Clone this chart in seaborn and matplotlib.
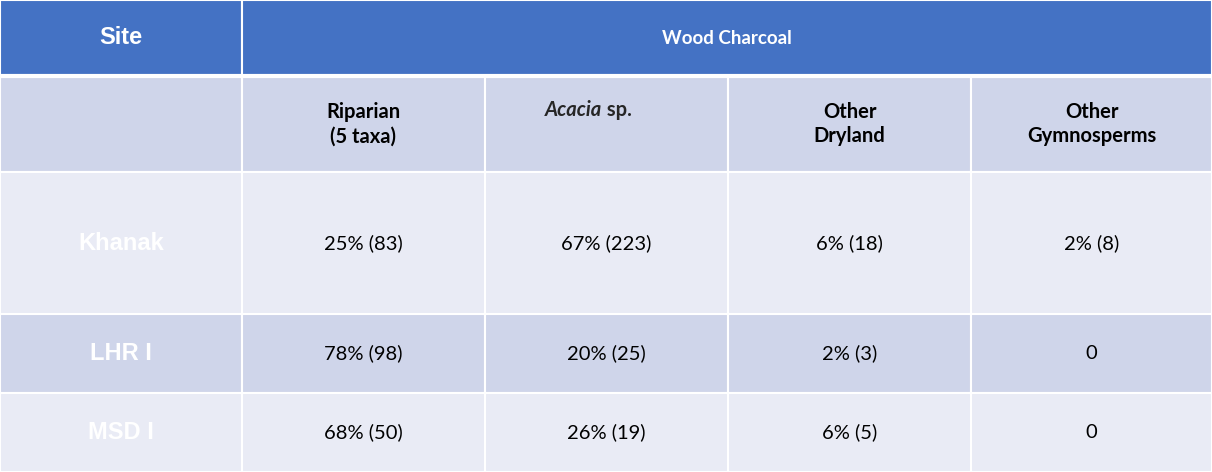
import matplotlib
matplotlib.use("Agg")
import matplotlib.pyplot as plt
import seaborn as sns
from matplotlib.patches import Rectangle

sns.set_theme(style="white")

sites = ["Khanak", "LHR I", "MSD I"]
groups = ["Riparian\n(5 taxa)", "Acacia sp.", "Other\nDryland", "Other\nGymnosperms"]
values = [
    ["25% (83)", "67% (223)", "6% (18)", "2% (8)"],
    ["78% (98)", "20% (25)", "2% (3)", "0"],
    ["68% (50)", "26% (19)", "6% (5)", "0"],
]

col_edges = [0, 242, 485, 728, 971, 1212]
row_edges = [0, 76, 172, 314, 393, 472]
row_colors = ["#4472C4", "#CFD5EA", "#E9EBF5", "#CFD5EA", "#E9EBF5"]

fig = plt.figure(figsize=(12.12, 4.72), dpi=100)
ax = fig.add_axes([0, 0, 1, 1])
ax.set_xlim(0, 1212)
ax.set_ylim(472, 0)
ax.axis("off")

def cell(r, c0, c1, color):
    x0, x1 = col_edges[c0], col_edges[c1]
    y0, y1 = row_edges[r], row_edges[r + 1]
    ax.add_patch(Rectangle((x0, y0), x1 - x0, y1 - y0, facecolor=color,
                           edgecolor="white", linewidth=1.5))
    return (x0 + x1) / 2, (y0 + y1) / 2

body = dict(family="Lato", fontsize=14.5, color="black", ha="center", va="center")
lead = dict(family="Liberation Sans", fontsize=17, weight="bold", color="white",
            ha="center", va="center")

# header
x, y = cell(0, 0, 1, row_colors[0])
ax.text(x, y, "Site", **lead)
x, y = cell(0, 1, 5, row_colors[0])
ax.text(x, y, "Wood Charcoal", family="Lato", fontsize=13.5, weight="bold",
        color="white", ha="center", va="center")

# sub-header
cell(1, 0, 1, row_colors[1])
for j, g in enumerate(groups):
    x, y = cell(1, j + 1, j + 2, row_colors[1])
    if g.startswith("Acacia"):
        ax.text(x - 4, y - 14, "Acacia", family="Lato", fontsize=14.5, weight="bold",
                style="italic", ha="right", va="center")
        ax.text(x - 4, y - 14, " sp.", family="Lato", fontsize=14.5, weight="bold",
                ha="left", va="center")
    else:
        ax.text(x, y, g, weight="bold", linespacing=1.3, **body)

for i, s in enumerate(sites):
    r = i + 2
    x, y = cell(r, 0, 1, row_colors[r])
    ax.text(x, y, s, **lead)
    for j, v in enumerate(values[i]):
        x, y = cell(r, j + 1, j + 2, row_colors[r])
        ax.text(x, y, v, **body)

# thicker white line under header
ax.axhline(76, color="white", linewidth=3)

fig.savefig("out.png", dpi=100)
